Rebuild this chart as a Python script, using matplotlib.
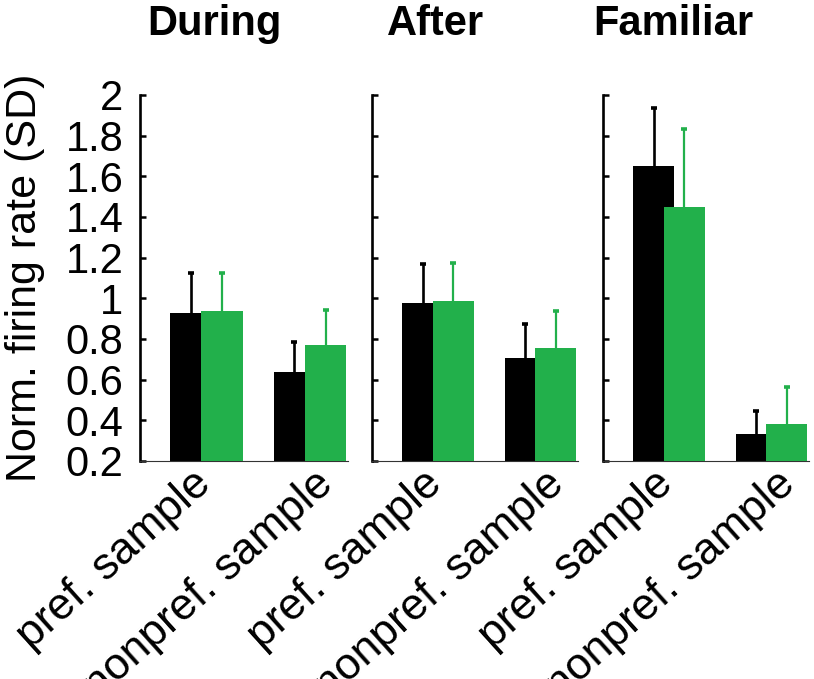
import matplotlib
matplotlib.use("Agg")
import matplotlib.pyplot as plt
import matplotlib.transforms as mtransforms
import numpy as np

plt.rcParams['font.family'] = ['Liberation Sans', 'DejaVu Sans']

panels = ["During", "After", "Familiar"]
categories = ["pref. sample", "nonpref. sample"]
# black series (first condition) and green series (second condition)
black_vals = [[0.93, 0.64], [0.976, 0.708], [1.652, 0.334]]
black_err = [[0.195, 0.143], [0.194, 0.167], [0.283, 0.112]]
green_vals = [[0.936, 0.771], [0.988, 0.754], [1.448, 0.380]]
green_err = [[0.19, 0.172], [0.186, 0.184], [0.385, 0.182]]
yticks = [0.2, 0.4, 0.6, 0.8, 1.0, 1.2, 1.4, 1.6, 1.8, 2.0]
ytick_labels = ["0.2", "0.4", "0.6", "0.8", "1", "1.2", "1.4", "1.6", "1.8", "2"]

GREEN = "#22B04B"
W, H = 814, 679
fig = plt.figure(figsize=(W / 100, H / 100), dpi=100)

lefts = [140, 372, 603]
widths = [208, 206, 206]
top_px, bot_px = 95, 461
title_x = [0.356, 0.306, 0.34]
label_dx_px = [-15, 4]   # horizontal nudge of each rotated category label

x = np.arange(len(categories))
off = 0.15
bw = 0.4


def err_bars(ax, xs, vals, errs, color, lw):
    vals = np.asarray(vals)
    tops = vals + np.asarray(errs)
    ax.vlines(xs, vals, tops, color=color, lw=lw, zorder=1)
    ax.plot(xs, tops, ls="none", marker="_", ms=5, mew=2.6, color=color, zorder=1)


for i, name in enumerate(panels):
    ax = fig.add_axes([lefts[i] / W, 1 - bot_px / H, widths[i] / W, (bot_px - top_px) / H])
    ax.bar(x - off, black_vals[i], bw, color="black", zorder=2)
    err_bars(ax, x - off, black_vals[i], black_err[i], "black", 1.9)
    ax.bar(x + off, green_vals[i], bw, color=GREEN, zorder=3)
    err_bars(ax, x + off, green_vals[i], green_err[i], GREEN, 1.6)
    ax.set_xlim(-0.643, 1.367)
    ax.set_ylim(0.2, 2.0)
    ax.set_yticks(yticks)
    if i == 0:
        ax.set_yticklabels(ytick_labels, fontsize=30)
        ax.set_ylabel("Norm. firing rate (SD)", fontsize=31, labelpad=15)
    else:
        ax.set_yticklabels([])
    ax.tick_params(axis="y", direction="in", length=4, width=1.8, pad=12)
    ax.set_xticks(x)
    ax.set_xticklabels([])
    ax.tick_params(axis="x", length=0)
    for j, cat in enumerate(categories):
        tr = ax.get_xaxis_transform() + mtransforms.ScaledTranslation(
            label_dx_px[j] / 100, -2 / 100, fig.dpi_scale_trans)
        ax.text(x[j], 0, cat, transform=tr, rotation=42, ha="right", va="top",
                rotation_mode="anchor", fontsize=32, clip_on=False)
    for s in ["top", "right"]:
        ax.spines[s].set_visible(False)
    ax.spines["left"].set_linewidth(1.9)
    ax.spines["bottom"].set_linewidth(0.8)
    ax.spines["bottom"].set_color("#333333")
    ax.patch.set_alpha(0)
    ax.text(title_x[i], 1 + (top_px - 35) / (bot_px - top_px), name, transform=ax.transAxes,
            ha="center", va="baseline", fontsize=30, fontweight="bold")

fig.savefig("out.png", dpi=100)
